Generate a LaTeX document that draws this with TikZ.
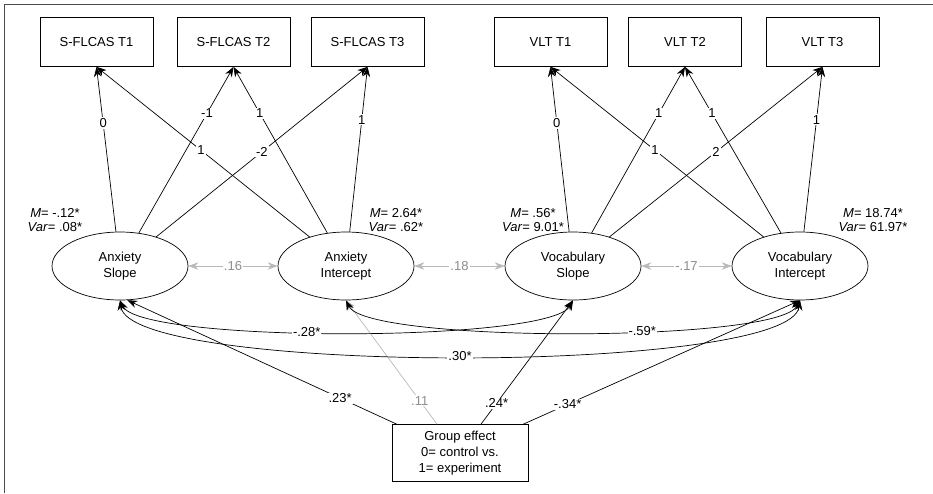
\documentclass[tikz,border=0pt]{standalone}
\usepackage{fontspec}
\setmainfont{Liberation Sans}
\usepackage{tikz}
\usetikzlibrary{arrows.meta,shapes.geometric}

\definecolor{corrgray}{RGB}{185,185,185}
\definecolor{labgray}{RGB}{140,140,140}
\definecolor{framegray}{RGB}{75,75,75}

\begin{document}
\begin{tikzpicture}[x=1pt, y=-1pt, >={Stealth[length=10pt,width=7.5pt]},
        font=\fontsize{13}{16}\selectfont, line width=0.7pt,
        obs/.style={draw, rectangle, minimum width=113pt, minimum height=49pt},
        latent/.style={draw, ellipse, minimum width=136pt, minimum height=68pt, align=center, inner sep=0pt},
        stat/.style={align=center, font=\fontsize{13}{14.5}\selectfont},
        lab/.style={fill=white, inner sep=1pt},
        corr/.style={<->, draw=corrgray, text=labgray}]
            \useasboundingbox (0, 0) rectangle (933, 493);
            \draw[framegray, line width=1.3pt] (4.5, 493) -- (4.5, 4.5) -- (933, 4.5);

            % observed measures
            \node[obs] (s1) at (96.5, 42) {S-FLCAS T1};
            \node[obs] (s2) at (233.5, 42) {S-FLCAS T2};
            \node[obs] (s3) at (367.5, 42) {S-FLCAS T3};
            \node[obs] (v1) at (550.5, 42) {VLT T1};
            \node[obs] (v2) at (685, 42) {VLT T2};
            \node[obs] (v3) at (822.5, 42) {VLT T3};

            % growth factors
            \node[latent] (as) at (120, 266) {Anxiety\\Slope};
            \node[latent] (ai) at (346, 266) {Anxiety\\Intercept};
            \node[latent] (vs) at (573, 266) {Vocabulary\\Slope};
            \node[latent] (vi) at (800, 266) {Vocabulary\\Intercept};

            \node[stat] (asstat) at (55, 220) {\textit{M}= -.12*\\\textit{Var}= .08*};
            \node[stat] (aistat) at (396, 220) {\textit{M}= 2.64*\\\textit{Var}= .62*};
            \node[stat] (vsstat) at (533, 220) {\textit{M}= .56*\\\textit{Var}= 9.01*};
            \node[stat] (vistat) at (873, 220) {\textit{M}= 18.74*\\\textit{Var}= 61.97*};

            \node[draw, rectangle, align=center, minimum width=136pt, minimum height=57pt] (ge) at (460, 453)
                {Group effect\\0= control vs.\\1= experiment};

            % loadings
            \draw[->] (as) -- (s1.south) node[lab, pos=0.66] {0};
            \draw[->] (as) -- (s2.south) node[lab, pos=0.72] {-1};
            \draw[->] (as) -- (s3.south) node[lab, pos=0.5] {-2};
            \draw[->] (ai) -- (s1.south) node[lab, pos=0.51] {1};
            \draw[->] (ai) -- (s2.south) node[lab, pos=0.72] {1};
            \draw[->] (ai) -- (s3.south) node[lab, pos=0.68] {1};
            \draw[->] (vs) -- (v1.south) node[lab, pos=0.66] {0};
            \draw[->] (vs) -- (v2.south) node[lab, pos=0.72] {1};
            \draw[->] (vs) -- (v3.south) node[lab, pos=0.5] {2};
            \draw[->] (vi) -- (v1.south) node[lab, pos=0.51] {1};
            \draw[->] (vi) -- (v2.south) node[lab, pos=0.72] {1};
            \draw[->] (vi) -- (v3.south) node[lab, pos=0.68] {1};

            % correlations between neighbours
            \draw[corr] (as) -- (ai) node[lab, midway] {.16};
            \draw[corr] (ai) -- (vs) node[lab, midway] {.18};
            \draw[corr] (vs) -- (vi) node[lab, midway] {-.17};

            % group effect (non-significant path first, under the others)
            \draw[->, draw=corrgray, text=labgray] ([xshift=-23pt]ge.north) -- (ai.south)
                node[lab, pos=0.19] {.11};
            \draw[->] ([xshift=5pt]ge.north west) -- (as.-78) node[lab, pos=0.21] {.23*};
            \draw[->] ([xshift=21pt]ge.north) -- (vs.south) node[lab, pos=0.17] {.24*};
            \draw[->] ([xshift=-5pt]ge.north east) -- (vi.south) node[lab, pos=0.16] {-.34*};

            % covariances across processes
            \draw[<->] (as.south) .. controls (140, 343) and (550, 343) .. (vs.south)
                node[lab, pos=0.44] {-.28*};
            \draw[<->] (ai.south) .. controls (366, 343) and (777, 343) .. (vi.south)
                node[lab, pos=0.61] {-.59*};
            \draw[<->] (as.south) .. controls (130, 375) and (790, 375) .. (vi.south)
                node[lab, pos=0.5] {.30*};
        \end{tikzpicture}
\end{document}
